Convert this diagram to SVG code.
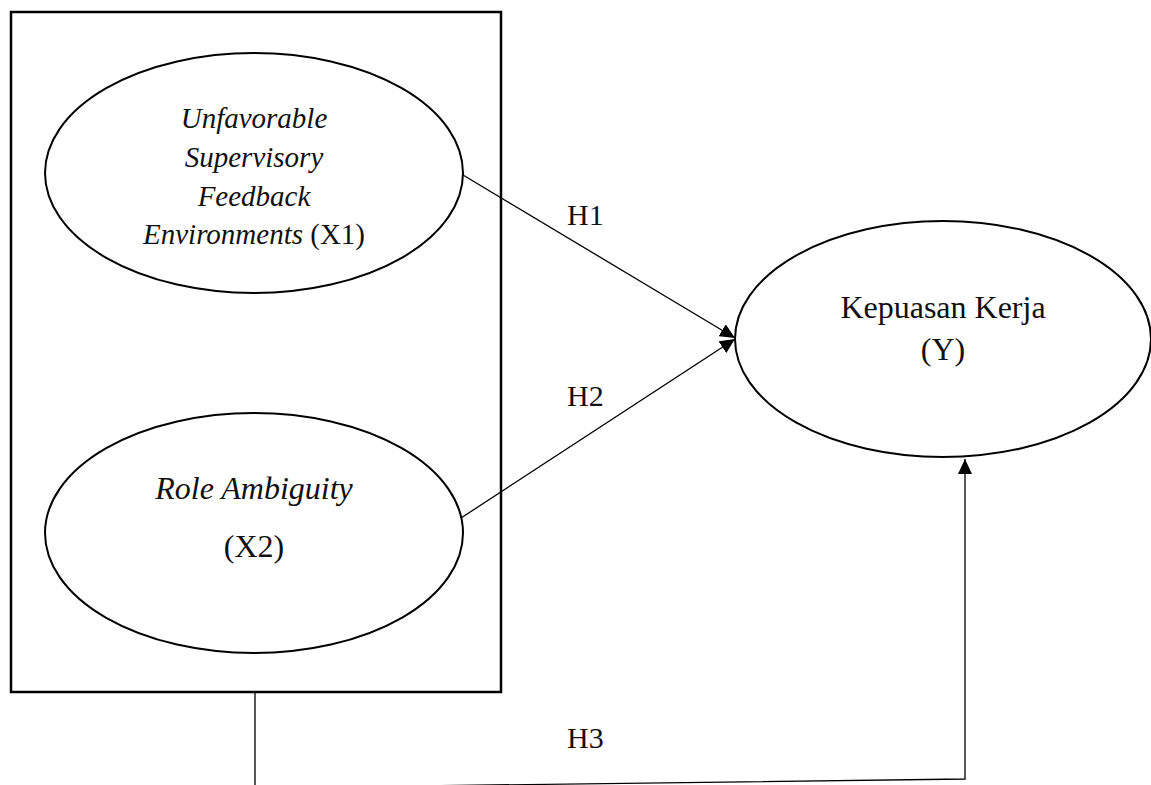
<svg xmlns="http://www.w3.org/2000/svg" width="1151" height="785" viewBox="0 0 1151 785">
<style>
.frame{fill:none;stroke:#000;stroke-width:2.5}
.node{fill:#fff;stroke:#000;stroke-width:2}
.lbl{font-family:"Liberation Serif","Times New Roman",serif;fill:#111}
.it{font-style:italic}
.edge{fill:none;stroke:#000;stroke-width:1.3}
</style>
<defs>
<marker id="ah" markerUnits="userSpaceOnUse" markerWidth="16" markerHeight="14" refX="15" refY="7" orient="auto">
<path d="M0,0 L15,7 L0,14 Z" fill="#000"/>
</marker>
</defs>
<rect x="0" y="0" width="1151" height="785" fill="#fff"/>
<g id="frame"><rect class="frame" x="11" y="12" width="490" height="680"/></g>
<g id="x1">
<ellipse class="node" cx="254" cy="173" rx="209" ry="120"/>
<text class="lbl it" font-size="29" text-anchor="middle" x="254" y="128">Unfavorable</text>
<text class="lbl it" font-size="29" text-anchor="middle" x="254" y="167">Supervisory</text>
<text class="lbl it" font-size="29" text-anchor="middle" x="254" y="206">Feedback</text>
<text class="lbl" font-size="29" text-anchor="middle" x="254" y="244"><tspan class="it">Environments</tspan> (X1)</text>
</g>
<g id="x2">
<ellipse class="node" cx="254" cy="533" rx="209" ry="120"/>
<text class="lbl it" font-size="32" text-anchor="middle" x="254" y="499">Role Ambiguity</text>
<text class="lbl" font-size="32" text-anchor="middle" x="254" y="557">(X2)</text>
</g>
<g id="y">
<ellipse class="node" cx="943" cy="339" rx="208" ry="118"/>
<text class="lbl" font-size="32" text-anchor="middle" x="943" y="318">Kepuasan Kerja</text>
<text class="lbl" font-size="32" text-anchor="middle" x="943" y="360">(Y)</text>
</g>
<g id="connectors">
<line class="edge" x1="463" y1="175" x2="735" y2="338" marker-end="url(#ah)"/>
<line class="edge" x1="461" y1="518" x2="735" y2="339" marker-end="url(#ah)"/>
<path class="edge" d="M255,693 V788 L965,779 V459" marker-end="url(#ah)"/>
<text class="lbl" font-size="30" x="567" y="225">H1</text>
<text class="lbl" font-size="30" x="567" y="406">H2</text>
<text class="lbl" font-size="30" x="567" y="748">H3</text>
</g>
</svg>
